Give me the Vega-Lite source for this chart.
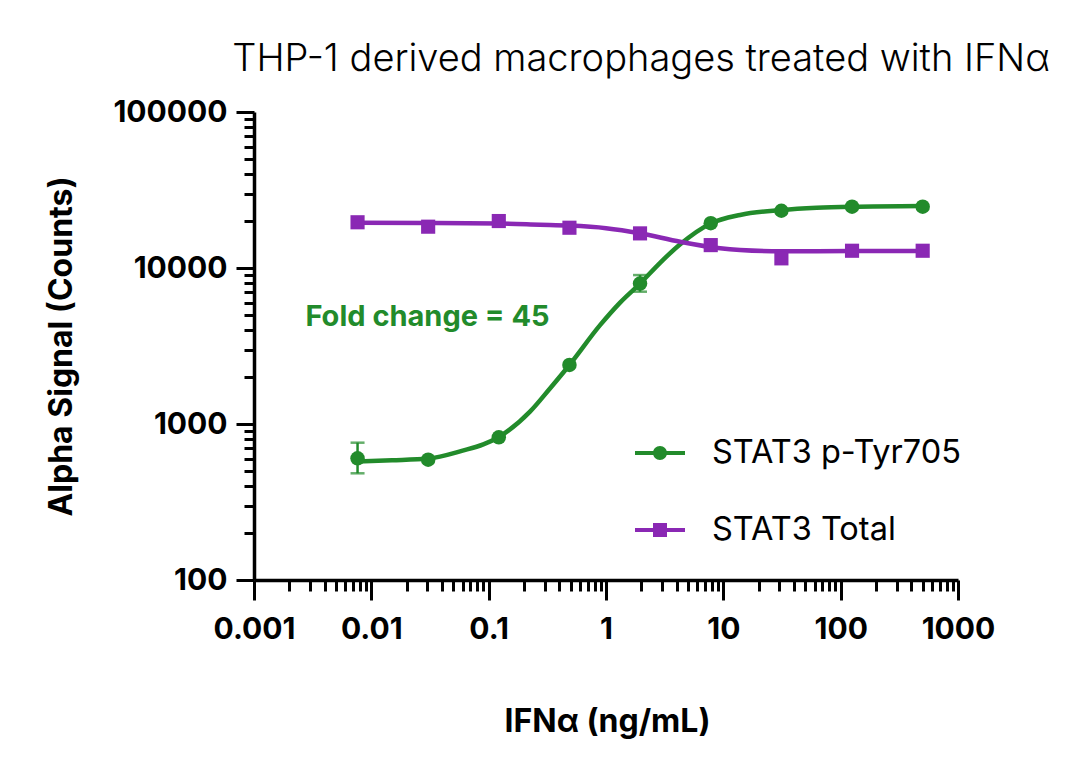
{
  "$schema": "https://vega.github.io/schema/vega-lite/v6.json",
  "width": 704,
  "height": 468,
  "autosize": {"type": "none"},
  "padding": {"left": 254, "top": 112, "right": 122, "bottom": 197},
  "background": "white",
  "title": {
    "text": "THP-1 derived macrophages treated with IFNα",
    "font": "Inter",
    "fontSize": 38,
    "fontWeight": 300,
    "color": "black",
    "anchor": "middle",
    "dx": 35,
    "baseline": "alphabetic",
    "offset": -12
  },
  "config": {"view": {"stroke": null}},
  "resolve": {"axis": {"x": "independent", "y": "independent"}},
  "datasets": {
    "points": [
      {"series": "STAT3 p-Tyr705", "x": 0.00763, "y": 603},
      {"series": "STAT3 p-Tyr705", "x": 0.0305, "y": 590},
      {"series": "STAT3 p-Tyr705", "x": 0.122, "y": 822},
      {"series": "STAT3 p-Tyr705", "x": 0.488, "y": 2390},
      {"series": "STAT3 p-Tyr705", "x": 1.95, "y": 7950},
      {"series": "STAT3 p-Tyr705", "x": 7.81, "y": 19370},
      {"series": "STAT3 p-Tyr705", "x": 31.25, "y": 23280},
      {"series": "STAT3 p-Tyr705", "x": 125, "y": 24700},
      {"series": "STAT3 p-Tyr705", "x": 500, "y": 24700},
      {"series": "STAT3 Total", "x": 0.00763, "y": 19640},
      {"series": "STAT3 Total", "x": 0.0305, "y": 18400},
      {"series": "STAT3 Total", "x": 0.122, "y": 20000},
      {"series": "STAT3 Total", "x": 0.488, "y": 18120},
      {"series": "STAT3 Total", "x": 1.95, "y": 16670},
      {"series": "STAT3 Total", "x": 7.81, "y": 14020},
      {"series": "STAT3 Total", "x": 31.25, "y": 11530},
      {"series": "STAT3 Total", "x": 125, "y": 12900},
      {"series": "STAT3 Total", "x": 500, "y": 12900}
    ],
    "curves": [
      {"series": "STAT3 p-Tyr705", "x": 0.00763, "y": 575},
      {"series": "STAT3 p-Tyr705", "x": 0.015, "y": 585},
      {"series": "STAT3 p-Tyr705", "x": 0.0305, "y": 600},
      {"series": "STAT3 p-Tyr705", "x": 0.06, "y": 675},
      {"series": "STAT3 p-Tyr705", "x": 0.09, "y": 740},
      {"series": "STAT3 p-Tyr705", "x": 0.122, "y": 826},
      {"series": "STAT3 p-Tyr705", "x": 0.225, "y": 1200},
      {"series": "STAT3 p-Tyr705", "x": 0.333, "y": 1690},
      {"series": "STAT3 p-Tyr705", "x": 0.488, "y": 2390},
      {"series": "STAT3 p-Tyr705", "x": 0.89, "y": 4300},
      {"series": "STAT3 p-Tyr705", "x": 1.318, "y": 6000},
      {"series": "STAT3 p-Tyr705", "x": 1.95, "y": 7950},
      {"series": "STAT3 p-Tyr705", "x": 2.89, "y": 10800},
      {"series": "STAT3 p-Tyr705", "x": 4.29, "y": 14200},
      {"series": "STAT3 p-Tyr705", "x": 7.81, "y": 19300},
      {"series": "STAT3 p-Tyr705", "x": 13.9, "y": 21880},
      {"series": "STAT3 p-Tyr705", "x": 31.25, "y": 23500},
      {"series": "STAT3 p-Tyr705", "x": 62.5, "y": 24300},
      {"series": "STAT3 p-Tyr705", "x": 125, "y": 24700},
      {"series": "STAT3 p-Tyr705", "x": 500, "y": 25000},
      {"series": "STAT3 Total", "x": 0.00763, "y": 19500},
      {"series": "STAT3 Total", "x": 0.0305, "y": 19450},
      {"series": "STAT3 Total", "x": 0.122, "y": 19300},
      {"series": "STAT3 Total", "x": 0.274, "y": 18950},
      {"series": "STAT3 Total", "x": 0.488, "y": 18700},
      {"series": "STAT3 Total", "x": 1.0, "y": 18000},
      {"series": "STAT3 Total", "x": 1.95, "y": 16700},
      {"series": "STAT3 Total", "x": 4.29, "y": 14730},
      {"series": "STAT3 Total", "x": 9.4, "y": 13370},
      {"series": "STAT3 Total", "x": 13.9, "y": 13040},
      {"series": "STAT3 Total", "x": 31.25, "y": 12800},
      {"series": "STAT3 Total", "x": 125, "y": 12850},
      {"series": "STAT3 Total", "x": 500, "y": 12850}
    ],
    "errors": [
      {"series": "STAT3 p-Tyr705", "x": 0.00763, "lo": 483, "hi": 759},
      {"series": "STAT3 p-Tyr705", "x": 1.95, "lo": 7050, "hi": 9010}
    ],
    "notes": [
      {"x": 0.0301, "y": 4250, "label": "Fold change = 45"}
    ]
  },
  "layer": [
    {
      "data": {"name": "points"},
      "mark": {"type": "point", "filled": true, "opacity": 0, "size": 1},
      "encoding": {
        "x": {"field": "x", "type": "quantitative", "scale": {"type": "log", "domain": [0.001, 1000]}, "axis": null},
        "y": {"field": "y", "type": "quantitative", "scale": {"type": "log", "domain": [100, 100000]}, "axis": null},
        "color": {
          "field": "series", "type": "nominal",
          "scale": {"domain": ["STAT3 p-Tyr705", "STAT3 Total"], "range": ["#228B2B", "#8A28B4"]},
          "legend": {
            "title": null, "orient": "none", "legendX": 381, "legendY": 316, "padding": 0, "rowPadding": 35,
            "symbolSize": 2500, "symbolOpacity": 1, "symbolStrokeWidth": 0,
            "labelFont": "Inter", "labelFontSize": 32.5, "labelColor": "black", "labelOffset": 27, "labelLimit": 0
          }
        },
        "shape": {
          "field": "series", "type": "nominal",
          "scale": {
            "domain": ["STAT3 p-Tyr705", "STAT3 Total"],
            "range": [
              "M-1,-0.08H1V0.08H-1Z M-0.28,0A0.28,0.28 0 1,1 0.28,0A0.28,0.28 0 1,1 -0.28,0Z",
              "M-1,-0.08H1V0.08H-1Z M-0.28,-0.28H0.28V0.28H-0.28Z"
            ]
          },
          "legend": {
            "title": null, "orient": "none", "legendX": 381, "legendY": 316, "padding": 0, "rowPadding": 35,
            "symbolSize": 2500, "symbolOpacity": 1, "symbolStrokeWidth": 0,
            "labelFont": "Inter", "labelFontSize": 32.5, "labelColor": "black", "labelOffset": 27, "labelLimit": 0
          }
        }
      }
    },
    {
      "data": {"name": "curves"},
      "mark": {"type": "line", "interpolate": "monotone", "strokeWidth": 4.5},
      "encoding": {
        "x": {
          "field": "x", "type": "quantitative",
          "scale": {"type": "log", "domain": [0.001, 1000]},
          "axis": {
            "orient": "bottom",
            "title": "IFNα (ng/mL)",
            "values": [0.001, 0.01, 0.1, 1, 10, 100, 1000],
            "labelExpr": "format(datum.value, '~g')",
            "labelFont": "Inter", "labelFontSize": 30, "labelFontWeight": "bold", "labelColor": "black",
            "labelPadding": 14, "labelOverlap": false, "labelFlush": false,
            "tickSize": 20,
            "tickWidth": 3, "tickColor": "black",
            "domainColor": "black", "domainWidth": 3.5, "grid": false,
            "titleFont": "Inter", "titleFontSize": 32, "titleFontWeight": "bold", "titleColor": "black",
            "titleX": 353, "titleY": 151, "titleBaseline": "alphabetic", "titleAlign": "center"
          }
        },
        "y": {
          "field": "y", "type": "quantitative",
          "scale": {"type": "log", "domain": [100, 100000]},
          "axis": {
            "orient": "left",
            "title": "Alpha Signal (Counts)",
            "values": [100, 1000, 10000, 100000],
            "labelExpr": "format(datum.value, '~g')",
            "labelFont": "Inter", "labelFontSize": 30, "labelFontWeight": "bold", "labelColor": "black",
            "labelPadding": 9, "labelOverlap": false, "labelFlush": false,
            "tickSize": 18,
            "tickWidth": 3, "tickColor": "black",
            "domainColor": "black", "domainWidth": 3.5, "grid": false,
            "titleFont": "Inter", "titleFontSize": 32, "titleFontWeight": "bold", "titleColor": "black",
            "titleX": -193, "titleY": 234, "titleAngle": 270, "titleBaseline": "middle", "titleAlign": "center"
          }
        },
        "color": {"field": "series", "type": "nominal"}
      }
    },
    {
      "data": {"name": "errors"},
      "mark": {"type": "errorbar", "ticks": true, "size": 14, "thickness": 2.5, "color": "#228B2B"},
      "encoding": {
        "x": {"field": "x", "type": "quantitative", "scale": {"type": "log", "domain": [0.001, 1000]}, "axis": null},
        "y": {"field": "lo", "type": "quantitative", "scale": {"type": "log", "domain": [100, 100000]}, "axis": null},
        "y2": {"field": "hi"}
      }
    },
    {
      "data": {"name": "points"},
      "transform": [{"filter": "datum.series == 'STAT3 p-Tyr705'"}],
      "mark": {"type": "point", "filled": true, "opacity": 1, "size": 210, "shape": "circle"},
      "encoding": {
        "x": {
          "field": "x", "type": "quantitative",
          "scale": {"type": "log", "domain": [0.001, 1000]},
          "axis": {
            "orient": "bottom",
            "title": null,
            "values": [0.002,0.003,0.004,0.005,0.006,0.007,0.008,0.009,0.02,0.03,0.04,0.05,0.06,0.07,0.08,0.09,0.2,0.3,0.4,0.5,0.6,0.7,0.8,0.9,2,3,4,5,6,7,8,9,20,30,40,50,60,70,80,90,200,300,400,500,600,700,800,900],
            "labels": false, "domain": false, "grid": false,
            "tickSize": 11, "tickWidth": 3, "tickColor": "black"
          }
        },
        "y": {
          "field": "y", "type": "quantitative",
          "scale": {"type": "log", "domain": [100, 100000]},
          "axis": {
            "orient": "left",
            "title": null,
            "values": [200,300,400,500,600,700,800,900,2000,3000,4000,5000,6000,7000,8000,9000,20000,30000,40000,50000,60000,70000,80000,90000],
            "labels": false, "domain": false, "grid": false,
            "tickSize": 10, "tickWidth": 3, "tickColor": "black"
          }
        },
        "color": {"field": "series", "type": "nominal"}
      }
    },
    {
      "data": {"name": "points"},
      "transform": [{"filter": "datum.series == 'STAT3 Total'"}],
      "mark": {"type": "point", "filled": true, "opacity": 1, "size": 200, "shape": "square"},
      "encoding": {
        "x": {"field": "x", "type": "quantitative", "scale": {"type": "log", "domain": [0.001, 1000]}, "axis": null},
        "y": {"field": "y", "type": "quantitative", "scale": {"type": "log", "domain": [100, 100000]}, "axis": null},
        "color": {"field": "series", "type": "nominal"}
      }
    },
    {
      "data": {"name": "notes"},
      "mark": {"type": "text", "font": "Inter", "fontSize": 29, "fontWeight": "bold", "color": "#228B2B", "align": "center", "baseline": "alphabetic"},
      "encoding": {
        "x": {"field": "x", "type": "quantitative", "scale": {"type": "log", "domain": [0.001, 1000]}, "axis": null},
        "y": {"field": "y", "type": "quantitative", "scale": {"type": "log", "domain": [100, 100000]}, "axis": null},
        "text": {"field": "label"}
      }
    }
  ]
}
